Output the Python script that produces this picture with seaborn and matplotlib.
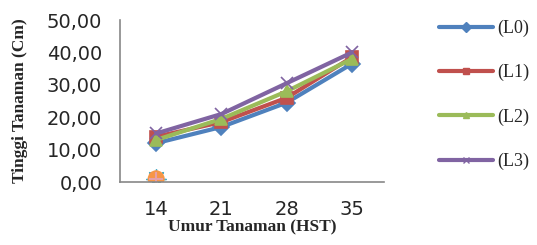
import pandas as pd
import matplotlib.pyplot as plt
import seaborn as sns

umur = ["14", "21", "28", "35"]
L0 = [12.0, 17.0, 24.5, 36.5]
L1 = [14.0, 18.5, 26.0, 38.5]
L2 = [13.0, 19.5, 28.0, 38.0]
L3 = [15.0, 21.0, 30.5, 40.0]
perlakuan = ["(L0)", "(L1)", "(L2)", "(L3)"]
warna = ["#4F81BD", "#C0504D", "#9BBB59", "#8064A2"]
penanda = ["D", "s", "^", "x"]

# stray points at 14 HST (not in legend)
stray_x = ["14", "14", "14"]
stray_y = [1.0, 1.0, 1.0]

sns.set_style("white")
plt.rcParams["font.family"] = ["DejaVu Sans"]

fig = plt.figure(figsize=(5.37, 2.45), dpi=100)
ax = fig.add_axes([0.224, 0.257, 0.492, 0.661])

for name, vals, c, m in zip(perlakuan, [L0, L1, L2, L3], warna, penanda):
    df = pd.DataFrame({"Umur": umur, "Tinggi": vals})
    sns.lineplot(data=df, x="Umur", y="Tinggi", color=c, marker=m, linewidth=3,
                 markersize=8, markeredgewidth=1.2, markeredgecolor=c, ax=ax, legend=False)

stray = pd.DataFrame({"Umur": stray_x, "Tinggi": stray_y})
sns.scatterplot(data=stray.iloc[[1]], x="Umur", y="Tinggi", color="#4BACC6", s=200,
                marker=(8, 2, 0), linewidth=1, ax=ax, legend=False)
sns.scatterplot(data=stray.iloc[[0]], x="Umur", y="Tinggi", color="#F79646", s=150,
                marker="o", edgecolor="none", ax=ax, legend=False)
sns.scatterplot(data=stray.iloc[[2]], x="Umur", y="Tinggi", color="#E6A0A8", s=90,
                marker="+", linewidth=1.5, ax=ax, legend=False)

ax.set_xlim(-0.55, 3.5)
ax.set_ylim(0, 50)
ax.set_yticks([0, 10, 20, 30, 40, 50])
ax.set_yticklabels(["0,00", "10,00", "20,00", "30,00", "40,00", "50,00"])
ax.tick_params(axis="y", length=6, width=1, color="#888888", labelsize=14, pad=7, direction="out")
ax.tick_params(axis="x", length=0, labelsize=14, pad=13)
for s in ["top", "right"]:
    ax.spines[s].set_visible(False)
for s in ["left", "bottom"]:
    ax.spines[s].set_color("#888888")
    ax.spines[s].set_linewidth(1.2)

ax.set_xlabel("Umur Tanaman (HST)", fontfamily="Liberation Serif", fontweight="bold",
              fontsize=12.5, labelpad=0)
ax.set_ylabel("Tinggi Tanaman (Cm)", fontfamily="Liberation Serif", fontweight="bold",
              fontsize=12.5)
ax.yaxis.set_label_coords(-0.35, 0.5)

handles = [plt.Line2D([], [], color=c, marker=m, linewidth=3, markersize=5)
           for c, m in zip(warna, penanda)]
fig.legend(handles, perlakuan, loc="upper left", bbox_to_anchor=(0.818, 0.92),
           frameon=False, prop={"family": "Liberation Serif", "size": 13},
           borderpad=0, borderaxespad=0,
           handlelength=3.0, handletextpad=0.2, labelspacing=1.5)

fig.savefig("out.png", dpi=100)
